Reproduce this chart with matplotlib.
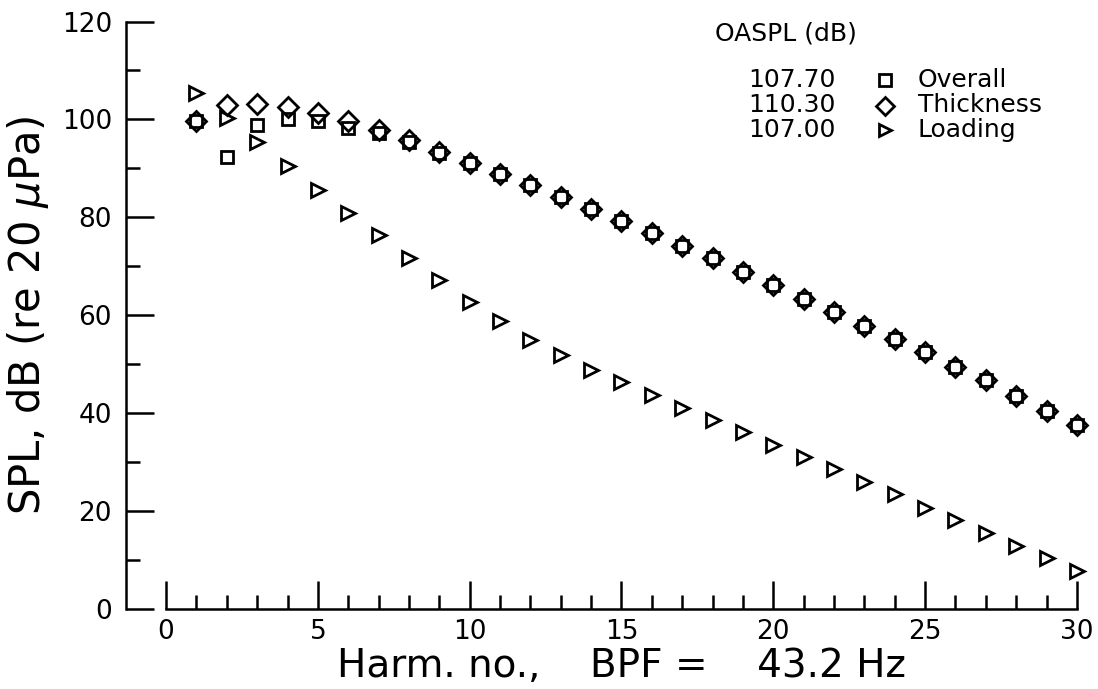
import numpy as np
import matplotlib
matplotlib.use("Agg")
import matplotlib.pyplot as plt
from matplotlib.ticker import MultipleLocator, FixedLocator

# Harmonic numbers
harm = np.arange(1, 31)

# SPL spectra (dB re 20 uPa)
overall = [99.6, 92.3, 98.9, 100.0, 99.6, 98.3, 97.2, 95.3, 93.2, 91.0,
           88.9, 86.6, 84.2, 81.8, 79.3, 76.7, 74.1, 71.6, 68.8, 66.2,
           63.4, 60.7, 57.9, 55.2, 52.4, 49.4, 46.7, 43.6, 40.5, 37.5]
thickness = [99.6, 103.0, 103.2, 102.6, 101.3, 99.6, 97.9, 95.7, 93.3, 91.0,
             88.9, 86.6, 84.2, 81.8, 79.3, 76.7, 74.1, 71.6, 68.8, 66.2,
             63.4, 60.7, 57.9, 55.2, 52.4, 49.4, 46.7, 43.6, 40.5, 37.5]
loading = [105.4, 100.2, 95.3, 90.5, 85.6, 80.8, 76.3, 71.7, 67.1, 62.7,
           58.8, 55.0, 51.9, 48.9, 46.3, 43.7, 41.1, 38.6, 36.1, 33.5,
           31.0, 28.6, 25.9, 23.5, 20.7, 18.2, 15.6, 12.9, 10.4, 7.8]

oaspl = ["107.70", "110.30", "107.00"]
names = ["Overall", "Thickness", "Loading"]
markers = ["s", "D", ">"]
sizes = [9, 10, 10]

W, H = 1098, 689
fig = plt.figure(figsize=(W / 100, H / 100), dpi=100)
ax = fig.add_axes([126 / W, 80 / H, 960 / W, 587.5 / H])

style = dict(linestyle="none", mfc="none", mec="black", mew=2.0, clip_on=False)
for y, mk, ms in zip([overall, thickness, loading], markers, sizes):
    ax.plot(harm, y, marker=mk, ms=ms, **style)

ax.set_xlim(-1.32, 30.3)
ax.set_ylim(0, 120)
ax.spines["top"].set_visible(False)
ax.spines["right"].set_visible(False)
ax.spines["bottom"].set_bounds(0, 30)
ax.spines["left"].set_bounds(0, 120)
for s in ["bottom", "left"]:
    ax.spines[s].set_linewidth(1.8)

ax.xaxis.set_major_locator(FixedLocator(np.arange(0, 31, 5)))
ax.xaxis.set_minor_locator(FixedLocator(np.arange(1, 30)))
ax.yaxis.set_major_locator(MultipleLocator(20))
ax.yaxis.set_minor_locator(MultipleLocator(10))
ax.tick_params(which="both", direction="in", width=1.8, labelsize=19)
ax.tick_params(which="major", length=20)
ax.tick_params(which="minor", length=10)
ax.tick_params(axis="y", pad=10)
ax.tick_params(axis="x", pad=7)

ax.set_ylabel(r"SPL, dB (re 20 $\mu$Pa)", fontsize=30)
ax.yaxis.set_label_coords(-0.078, 0.5)
ax.set_xlabel("Harm. no.,    BPF =    43.2 Hz", fontsize=28)
ax.xaxis.set_label_coords(0.516, -0.064)

# OASPL key, top right
def fx(px):
    return px / W

def fy(py):
    return 1 - py / H

fig.text(fx(715), fy(33), "OASPL (dB)", fontsize=18, va="center", ha="left")
rows = [80, 105.5, 130]
for py, val, name, mk, ms in zip(rows, oaspl, names, markers, sizes):
    fig.text(fx(748), fy(py), val, fontsize=18, va="center", ha="left")
    ax.plot([fx(885)], [fy(py)], marker=mk, ms=ms - 1, transform=fig.transFigure, **style)
    fig.text(fx(918), fy(py), name, fontsize=18, va="center", ha="left")

fig.savefig("out.png", dpi=100)
